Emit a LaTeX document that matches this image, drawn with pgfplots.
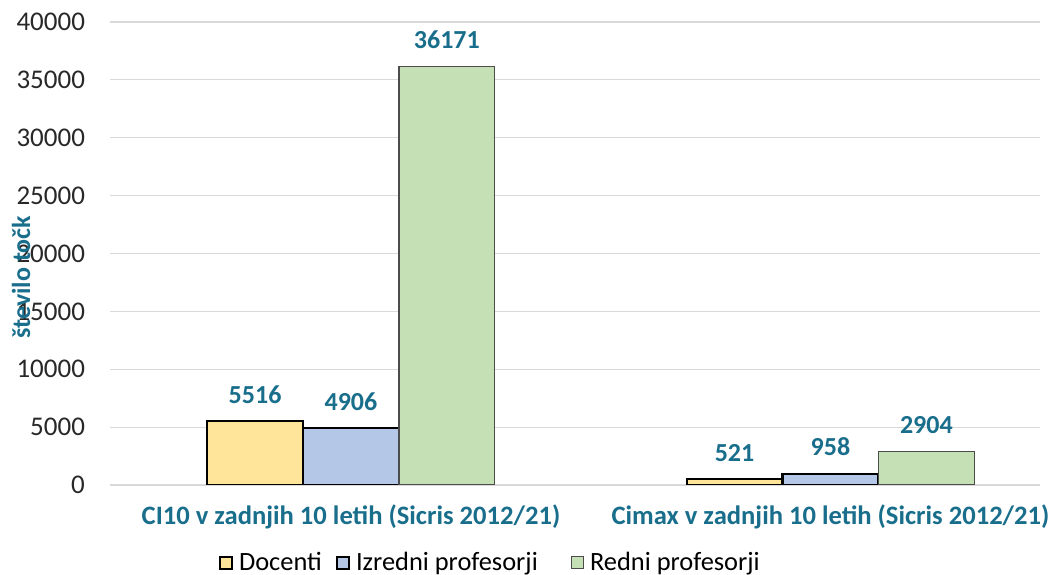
\documentclass[border=0pt]{standalone}
\usepackage{pgfplots}
\pgfplotsset{compat=1.18}
\usepackage{fontspec}
\setmainfont{Carlito}
\definecolor{tealtxt}{RGB}{25,110,140}
\definecolor{cDoc}{RGB}{255,229,153}
\definecolor{cIzr}{RGB}{180,199,231}
\definecolor{cRed}{RGB}{197,224,180}
\definecolor{gridc}{RGB}{217,217,217}
\definecolor{ticktxt}{RGB}{40,40,40}
\begin{document}
\begin{tikzpicture}
\begin{axis}[
  scale only axis,
  width=465pt, height=231.5pt,
  xmin=-0.5026, xmax=1.437,
  ymin=0, ymax=40000,
  ytick={0,5000,...,40000},
  xtick={0,1},
  xticklabels={CI10 v zadnjih 10 letih (Sicris 2012/21), Cimax v zadnjih 10 letih (Sicris 2012/21)},
  xticklabel style={font=\fontsize{13.3pt}{15pt}\selectfont\bfseries, text=tealtxt, yshift=-6.5pt},
  yticklabel style={font=\fontsize{13.5pt}{15pt}\selectfont, text=ticktxt, xshift=-9pt},
  /pgf/number format/assume math mode=true,
  /pgf/number format/1000 sep={},
  scaled y ticks=false,
  major tick length=0pt,
  ymajorgrids, grid style={draw=gridc, line width=0.6pt},
  axis line style={draw=none},
  ylabel={število točk},
  ylabel style={at={(axis description cs:-0.0957,0.449)}, anchor=center, font=\fontsize{13pt}{15pt}\selectfont\bfseries, text=tealtxt},
  bar width=0.2,
  ybar,
  nodes near coords,
  nodes near coords style={font=\fontsize{13pt}{15pt}\selectfont\bfseries, text=tealtxt, anchor=south, yshift=5pt, /pgf/number format/1000 sep={}},
  legend style={at={(axis description cs:0.41,-0.168)}, anchor=center, draw=none, fill=none,
    font=\fontsize{13.2pt}{15pt}\selectfont, text=black, legend columns=3,
    /tikz/every even column/.append style={column sep=0pt}},
  legend cell align=left,
  legend image code/.code={\draw[#1] (0pt,-3pt) rectangle (6pt,3pt); \path (7pt,0pt);},
]
\addplot[bar shift=-0.2, fill=cDoc, draw=black, line width=1.1pt] coordinates {(0,5516) (1,521)};
\addplot[bar shift=0, fill=cIzr, draw=black, line width=1.1pt] coordinates {(0,4906) (1,958)};
\addplot[bar shift=0.2, fill=cRed, draw=black!70, line width=0.6pt] coordinates {(0,36171) (1,2904)};
\legend{Docenti\kern5pt, Izredni profesorji\kern14.5pt, Redni profesorji}
\coordinate (ll) at (rel axis cs:0,0);
\coordinate (ur) at (rel axis cs:1,1);
\end{axis}
\pgfresetboundingbox
\path[use as bounding box] ([xshift=-55pt,yshift=-45pt]ll) rectangle ([xshift=7pt,yshift=11pt]ur);
\end{tikzpicture}
\end{document}
